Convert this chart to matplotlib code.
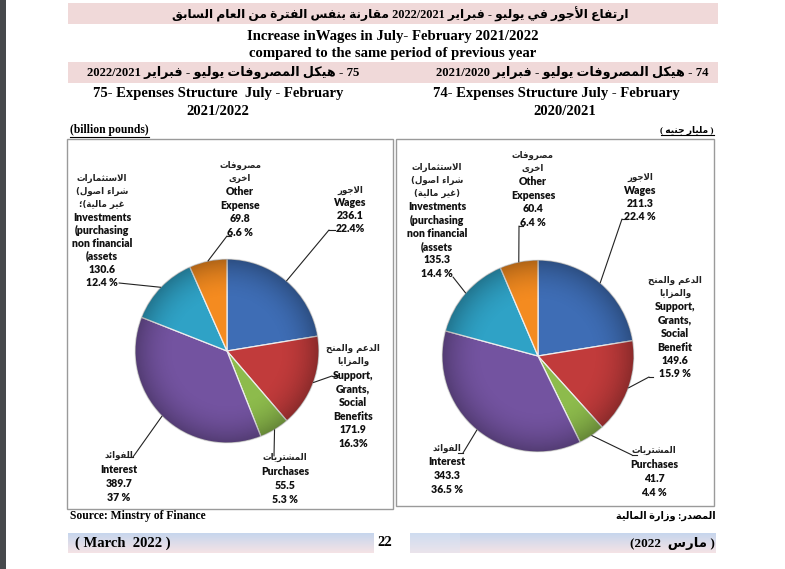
import re
import numpy as np
import matplotlib
matplotlib.use('Agg')
import matplotlib.pyplot as plt
from matplotlib.patches import Rectangle, ConnectionPatch, Circle

# ---------------- data ----------------
left_values = [236.1, 171.9, 55.5, 389.7, 130.6, 69.8]
left_pct = ['22.4%', '16.3%', '5.3 %', '37 %', '12.4 %', '6.6 %']
left_names = [
    ['الاجور', 'Wages'],
    ['الدعم والمنح', 'والمزايا', 'Support,', 'Grants,', 'Social', 'Benefits'],
    ['المشتريات', 'Purchases'],
    ['الفوائد', 'Interest'],
    ['الاستثمارات', '(شراء اصول', 'غير مالية)؛', 'Investments', '(purchasing',
     'non financial', '(assets'],
    ['مصروفات', 'اخرى', 'Other', 'Expense'],
]
right_values = [211.3, 149.6, 41.7, 343.3, 135.3, 60.4]
right_pct = ['22.4 %', '15.9 %', '4.4 %', '36.5 %', '14.4 %', '6.4 %']
right_names = [
    ['الاجور', 'Wages'],
    ['الدعم والمنح', 'والمزايا', 'Support,', 'Grants,', 'Social', 'Benefit'],
    ['المشتريات', 'Purchases'],
    ['الفوائد', 'Interest'],
    ['الاستثمارات', '(شراء اصول', '(غير مالية)', 'Investments', '(purchasing',
     'non financial', '(assets'],
    ['مصروفات', 'اخرى', 'Other', 'Expenses'],
]
colors = ['#3E6DB5', '#C13B3B', '#8DBB4C', '#7353A0', '#2FA2C6', '#F48B20']

title_ar = 'ارتفاع الأجور في يوليو - فبراير 2022/2021 مقارنة بنفس الفترة من العام السابق'
title_en1 = 'Increase inWages in July- February 2021/2022'
title_en2 = 'compared to the same period of previous year'
left_head_ar = '75 - هيكل المصروفات يوليو - فبراير 2022/2021'
right_head_ar = '74 - هيكل المصروفات يوليو - فبراير 2021/2020'
left_sub = ['75- Expenses Structure  July - February', '2021/2022']
right_sub = ['74- Expenses Structure July - February', '2020/2021']
unit_en = '(billion pounds)'
unit_ar = '( مليار جنيه )'
source_en = 'Source: Minstry of Finance'
source_ar = 'المصدر: وزارة المالية'
foot_en = '( March  2022 )'
foot_page = '22'
foot_ar = '( مارس  2022)'

# ---------------- Arabic shaping / ordering ----------------
DUAL = {'ئ': 0xFE89, 'ب': 0xFE8F, 'ت': 0xFE95, 'ث': 0xFE99, 'ج': 0xFE9D, 'ح': 0xFEA1,
        'خ': 0xFEA5, 'س': 0xFEB1, 'ش': 0xFEB5, 'ص': 0xFEB9, 'ض': 0xFEBD, 'ط': 0xFEC1,
        'ظ': 0xFEC5, 'ع': 0xFEC9, 'غ': 0xFECD, 'ف': 0xFED1, 'ق': 0xFED5, 'ك': 0xFED9,
        'ل': 0xFEDD, 'م': 0xFEE1, 'ن': 0xFEE5, 'ه': 0xFEE9, 'ي': 0xFEF1}
RIGHT = {'آ': 0xFE81, 'أ': 0xFE83, 'ؤ': 0xFE85, 'إ': 0xFE87, 'ا': 0xFE8D, 'ة': 0xFE93,
         'د': 0xFEA9, 'ذ': 0xFEAB, 'ر': 0xFEAD, 'ز': 0xFEAF, 'و': 0xFEED, 'ى': 0xFEEF}
LAMALEF = {'آ': 0xFEF5, 'أ': 0xFEF7, 'إ': 0xFEF9, 'ا': 0xFEFB}
MIRROR = {ord('('): ')', ord(')'): '('}
AR = '\u0600-\u06FF\uFE70-\uFEFF'


def shape(s):
    out, i, n, prev = [], 0, len(s), False
    while i < n:
        c = s[i]
        nx = s[i + 1] if i + 1 < n else ''
        if c == 'ل' and nx in LAMALEF:
            out.append(chr(LAMALEF[nx] + (1 if prev else 0)))
            prev = False
            i += 2
            continue
        if c in DUAL:
            b = DUAL[c]
            nl = nx in DUAL or nx in RIGHT
            code = b + (3 if (prev and nl) else 1 if prev else 2 if nl else 0)
            out.append(chr(code))
            prev = True
        elif c in RIGHT:
            out.append(chr(RIGHT[c] + (1 if prev else 0)))
            prev = False
        elif c == 'ء':
            out.append('\uFE80')
            prev = False
        else:
            out.append(c)
            prev = False
        i += 1
    return ''.join(out)


def ar_rtl(s):
    t = shape(s)
    toks = re.split(r'([A-Za-z0-9](?:[A-Za-z0-9/.,%]*[A-Za-z0-9%])?)', t)
    res = []
    for i in range(len(toks) - 1, -1, -1):
        tk = toks[i]
        res.append(tk if i % 2 == 1 else tk[::-1].translate(MIRROR))
    return ''.join(res)


def ar_ltr(s):
    t = shape(s)
    return re.sub('[' + AR + '](?:[^A-Za-z0-9]*[' + AR + '])?',
                  lambda m: m.group(0)[::-1].translate(MIRROR), t)


def is_ar(s):
    return re.search('[' + AR + ']', s) is not None

# ---------------- figure ----------------
W, H = 785, 569
fig = plt.figure(figsize=(W / 100, H / 100), dpi=100)
fig.patch.set_facecolor('white')
pax = fig.add_axes([0, 0, 1, 1])
pax.set_xlim(0, W)
pax.set_ylim(H, 0)
pax.axis('off')

SERIF = ['Liberation Serif', 'DejaVu Sans']
ARF = ['DejaVu Sans']
LAB = ['Lato', 'DejaVu Sans']

# dark left strip
pax.add_patch(Rectangle((0, 0), 6, H, facecolor='#46494c', edgecolor='none'))

# pink bands
band = '#f0d9d9'
pax.add_patch(Rectangle((68, 3), 650, 21, facecolor=band, edgecolor='none'))
pax.add_patch(Rectangle((68, 62), 650, 21, facecolor=band, edgecolor='none'))

pax.text(400, 14, ar_rtl(title_ar), family=SERIF, weight='bold', fontsize=8.8,
         ha='center', va='center')
pax.text(393, 36, title_en1, family=SERIF, weight='bold', fontsize=10.6,
         ha='center', va='center')
pax.text(393, 53, title_en2, family=SERIF, weight='bold', fontsize=10.6,
         ha='center', va='center')
pax.text(223, 72, ar_rtl(left_head_ar), family=SERIF, weight='bold', fontsize=9.2,
         ha='center', va='center')
pax.text(572, 72, ar_rtl(right_head_ar), family=SERIF, weight='bold', fontsize=9.2,
         ha='center', va='center')
pax.text(218, 93, left_sub[0], family=SERIF, weight='bold', fontsize=10.5,
         ha='center', va='center')
pax.text(218, 111, left_sub[1], family=SERIF, weight='bold', fontsize=10.5,
         ha='center', va='center')
pax.text(556, 93, right_sub[0], family=SERIF, weight='bold', fontsize=10.5,
         ha='center', va='center')
pax.text(565, 111, right_sub[1], family=SERIF, weight='bold', fontsize=10.5,
         ha='center', va='center')

t_unit_en = pax.text(70, 130, unit_en, family=SERIF, weight='bold', fontsize=8.4,
                     ha='left', va='center')
t_unit_ar = pax.text(714, 130, ar_rtl(unit_ar), family=SERIF, weight='bold', fontsize=6.5,
                     ha='right', va='center')

# frames
pax.add_patch(Rectangle((67, 139), 326, 370, facecolor='none', edgecolor='#9a9a9a', lw=1))
pax.add_patch(Rectangle((396, 139), 318, 367, facecolor='none', edgecolor='#9a9a9a', lw=1))

pax.text(70, 516, source_en, family=SERIF, weight='bold', fontsize=8.4,
         ha='left', va='center')
pax.text(716, 516, ar_rtl(source_ar), family=SERIF, weight='bold', fontsize=7,
         ha='right', va='center')

# footer band with gradient
top = np.array([0.78, 0.84, 0.93])
bot = np.array([0.96, 0.89, 0.90])
g = np.linspace(0, 1, 32)[:, None, None]
grad = top * (1 - g) + bot * g
for (x0, x1) in [(68, 374), (410, 460), (460, 716)]:
    gg = grad if x0 != 410 else grad * 0.6 + 0.4 * np.array([0.86, 0.90, 0.96])
    pax.imshow(np.repeat(gg, 2, axis=1), extent=[x0, x1, 553, 533], aspect='auto',
               zorder=0, interpolation='bilinear')
pax.set_xlim(0, W)
pax.set_ylim(H, 0)
pax.text(75, 543, foot_en, family=SERIF, weight='bold', fontsize=10.5, ha='left', va='center')
pax.text(385, 543, foot_page, family=SERIF, weight='bold', fontsize=10.5, ha='center', va='center')
pax.text(715, 543, ar_rtl(foot_ar), family=SERIF, weight='bold', fontsize=9.5,
         ha='right', va='center')

# ---------------- pies ----------------
def draw_pie(values, pct, names, cx, cy, r, label_pos, anchors, ticks):
    m = 1.06
    ax = fig.add_axes([(cx - m * r) / W, 1 - (cy + m * r) / H, 2 * m * r / W, 2 * m * r / H])
    wedges, _ = ax.pie(values, colors=colors, startangle=90, counterclock=False, radius=1,
                       wedgeprops=dict(edgecolor='#eeeeee', linewidth=0.9))
    ax.set_xlim(-m, m)
    ax.set_ylim(-m, m)
    ax.axis('off')
    # soft 3D-like shading: darker rim
    yy, xx = np.mgrid[-1:1:300j, -1:1:300j]
    rr = np.sqrt(xx ** 2 + yy ** 2)
    shade = np.zeros((300, 300, 4))
    shade[..., 3] = np.clip(0.28 * np.clip((rr - 0.55) / 0.45, 0, 1) ** 2, 0, 0.3)
    im = ax.imshow(shade, extent=[-1, 1, -1, 1], zorder=3, interpolation='bilinear')
    im.set_clip_path(Circle((0, 0), 1.0, transform=ax.transData))
    ax.set_xlim(-m, m)
    ax.set_ylim(-m, m)
    total = sum(values)
    cum = 0.0
    for i, v in enumerate(values):
        ang = np.deg2rad(90 - 360 * (cum + v / 2) / total)
        cum += v
        p = (np.cos(ang), np.sin(ang))
        ax_, ay_ = anchors[i]
        con = ConnectionPatch(xyA=p, coordsA=ax.transData, xyB=(ax_, ay_),
                              coordsB=pax.transData, color='#222222', lw=0.8)
        fig.add_artist(con)
        if ticks[i]:
            pax.plot([ax_, ax_ + ticks[i]], [ay_, ay_], color='#222222', lw=0.8)
        lines = names[i] + ['%.1f' % v, pct[i]]
        x, y0, dy = label_pos[i]
        for k, ln in enumerate(lines):
            if is_ar(ln):
                pax.text(x, y0 + k * dy, ar_ltr(ln), family=ARF, weight='bold',
                         fontsize=6.2, ha='center', va='center', color='#222222')
            else:
                pax.text(x, y0 + k * dy, ln, family=LAB, weight='heavy',
                         fontsize=7.6, ha='center', va='center', color='#111111')
    return ax

left_label_pos = [(350, 190, 12.7), (353, 348, 13.6), (285, 457, 14.3),
                  (119, 455, 14.0), (102, 178, 13.0), (240, 165, 13.4)]
left_anchors = [(329, 230), (332, 376), (274, 456), (133, 457), (119, 283), (227, 236)]
left_ticks = [6, 4, 0, -5, 0, 4]
draw_pie(left_values, left_pct, left_names, 227, 351, 92,
         left_label_pos, left_anchors, left_ticks)

right_label_pos = [(640, 177, 13.3), (675, 280, 13.4), (654, 450, 14.3),
                   (447, 448, 13.7), (437, 167, 13.25), (533, 155, 13.4)]
right_anchors = [(622, 219), (649, 377), (632, 455), (463, 453), (453, 277), (519, 226)]
right_ticks = [5, 4, 5, -5, 0, 4]
draw_pie(right_values, right_pct, right_names, 538, 356, 96,
         right_label_pos, right_anchors, right_ticks)

# underline unit labels
fig.canvas.draw()
inv = pax.transData.inverted()
for t in (t_unit_en, t_unit_ar):
    bb = t.get_window_extent()
    (x0, y0), (x1, y1) = inv.transform([(bb.x0, bb.y0), (bb.x1, bb.y1)])
    pax.plot([x0, x1], [y0 + 0.5, y0 + 0.5], color='black', lw=0.8)

fig.savefig('out.png', dpi=100)
